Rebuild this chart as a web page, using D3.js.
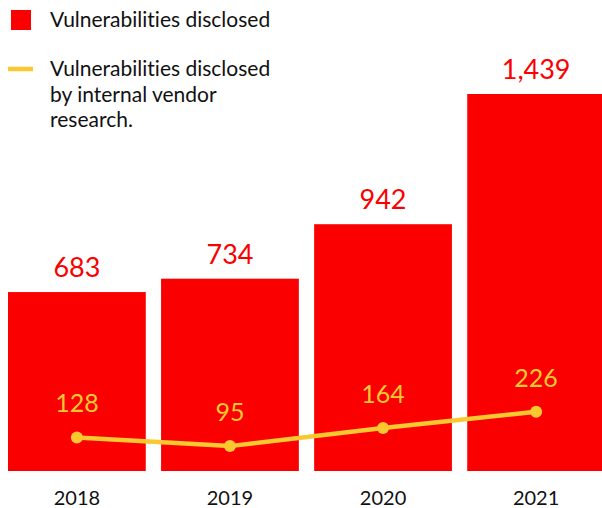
<!DOCTYPE html>
<html>
<head>
<meta charset="utf-8">
<script src="https://cdn.jsdelivr.net/npm/d3@7"></script>
<style>
  body { margin: 0; background: #fff; }
  text { font-family: Lato, "Noto Sans", sans-serif; font-variant-ligatures: none; }
</style>
</head>
<body>
<svg id="chart" width="602" height="508"></svg>
<script>
// data
const years = ["2018", "2019", "2020", "2021"];
const disclosed = [683, 734, 942, 1439];
const internal = [128, 95, 164, 226];
const legendBar = ["Vulnerabilities disclosed"];
const legendLine = ["Vulnerabilities disclosed", "by internal vendor", "research."];

const red = "#fa0000";
const yellow = "#fbc82f";

const svg = d3.select("#chart");

// band scale for the bars, one linear scale shared by bars and line
const x = d3.scaleBand()
    .domain(years)
    .range([8, 605])
    .paddingInner(0.1)
    .paddingOuter(0);

const y = d3.scaleLinear()
    .domain([0, 1439])
    .range([471, 94]);

// bars
svg.selectAll("rect.bar")
    .data(disclosed)
    .enter()
    .append("rect")
    .attr("class", "bar")
    .attr("x", (d, i) => x(years[i]))
    .attr("y", d => y(d))
    .attr("width", x.bandwidth())
    .attr("height", d => y(0) - y(d))
    .attr("fill", red);

svg.selectAll("text.barLabel")
    .data(disclosed)
    .enter()
    .append("text")
    .attr("class", "barLabel")
    .attr("x", (d, i) => x(years[i]) + x.bandwidth() / 2)
    .attr("y", d => y(d) - 15)
    .attr("text-anchor", "middle")
    .attr("fill", red)
    .style("font-size", "27px")
    .text(d => d3.format(",")(d));

// line
const cx = (d, i) => x(years[i]) + x.bandwidth() / 2;
const line = d3.line()
    .x(cx)
    .y(d => y(d));

svg.append("path")
    .datum(internal)
    .attr("d", line)
    .attr("fill", "none")
    .attr("stroke", yellow)
    .attr("stroke-width", 4.5);

svg.selectAll("circle.dot")
    .data(internal)
    .enter()
    .append("circle")
    .attr("class", "dot")
    .attr("cx", cx)
    .attr("cy", d => y(d))
    .attr("r", 6)
    .attr("fill", yellow);

svg.selectAll("text.lineLabel")
    .data(internal)
    .enter()
    .append("text")
    .attr("class", "lineLabel")
    .attr("x", cx)
    .attr("y", d => y(d) - 25)
    .attr("text-anchor", "middle")
    .attr("fill", yellow)
    .style("font-size", "25px")
    .text(d => d);

// year axis, no line or ticks
const axis = svg.append("g")
    .attr("transform", "translate(0,471)")
    .call(d3.axisBottom(x).tickSize(0).tickPadding(0));
axis.select(".domain").remove();
axis.selectAll("text")
    .attr("y", 34)
    .attr("dy", 0)
    .attr("fill", "#111")
    .style("font-family", "Lato, 'Noto Sans', sans-serif")
    .style("font-size", "20px");

// legend
svg.append("rect")
    .attr("x", 11).attr("y", 10)
    .attr("width", 20).attr("height", 20)
    .attr("fill", red);

svg.selectAll("text.leg1")
    .data(legendBar)
    .enter()
    .append("text")
    .attr("class", "leg1")
    .attr("x", 50)
    .attr("y", 27)
    .attr("fill", "#111")
    .style("font-size", "21px")
    .text(d => d);

svg.append("line")
    .attr("x1", 8).attr("x2", 33)
    .attr("y1", 69).attr("y2", 69)
    .attr("stroke", yellow)
    .attr("stroke-width", 4.5);

svg.selectAll("text.leg2")
    .data(legendLine)
    .enter()
    .append("text")
    .attr("class", "leg2")
    .attr("x", 50)
    .attr("y", (d, i) => 76 + i * 25.5)
    .attr("fill", "#111")
    .style("font-size", "21px")
    .text(d => d);
</script>
</body>
</html>
